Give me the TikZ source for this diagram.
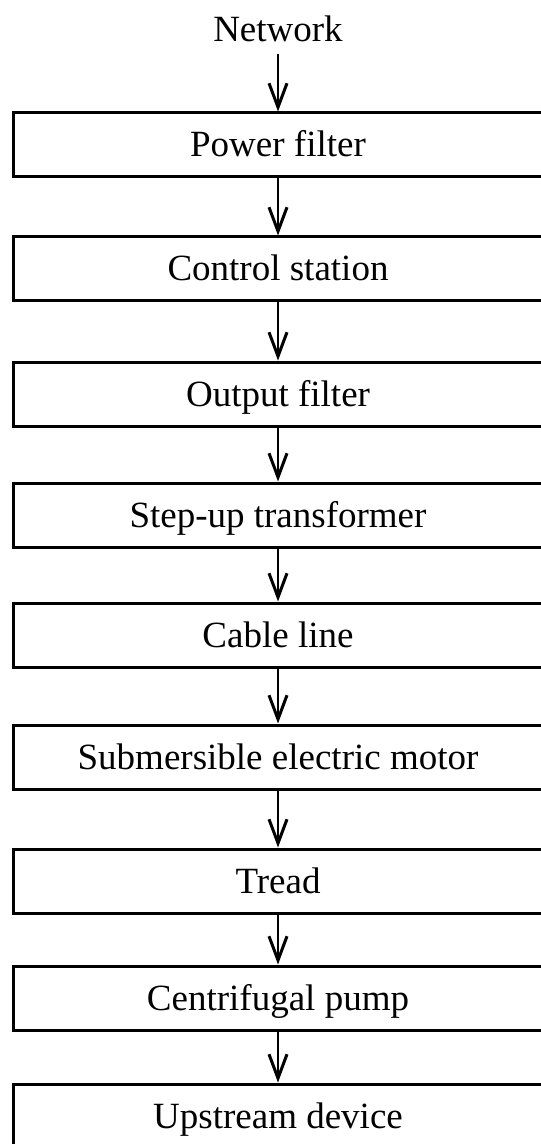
\documentclass[tikz,border=0pt]{standalone}
\usepackage{fontspec}
\setmainfont{Liberation Serif}
\usetikzlibrary{positioning,arrows.meta}

\tikzset{
  blk/.style={draw,line width=1.5pt,minimum width=265pt,minimum height=32pt,
    inner sep=0pt,text height=15.5pt,text depth=3.5pt},
  lbl/.style={inner sep=0pt,text depth=0pt},
  arr/.style={line width=1.3pt,-{Straight Barb[length=12pt,width=9pt,line width=1.5pt]}}
}

\begin{document}
\begin{tikzpicture}[font=\fontsize{18.5}{22}\selectfont]
    \useasboundingbox (0,0) rectangle (270pt,-572pt);
    \node[blk] (pf) at (139pt,-72.5pt) {Power filter};
    \node[lbl, above=35pt of pf] (net) {Network};
    \node[blk, below=28.5pt of pf] (cs) {Control station};
    \node[blk, below=29pt of cs] (of) {Output filter};
    \node[blk, below=27pt of of] (tr) {Step-up transformer};
    \node[blk, below=26.5pt of tr] (cl) {Cable line};
    \node[blk, below=27.5pt of cl] (sem) {Submersible electric motor};
    \node[blk, below=28.5pt of sem] (td) {Tread};
    \node[blk, below=25pt of td] (cp) {Centrifugal pump};
    \node[blk, below=25.5pt of cp] (ud) {Upstream device};
    \draw[arr,shorten <=6.5pt] (net) -- (pf);
    \foreach \a/\b in {pf/cs,cs/of,of/tr,tr/cl,cl/sem,sem/td,td/cp,cp/ud}
      \draw[arr] (\a) -- (\b);
  \end{tikzpicture}
\end{document}
